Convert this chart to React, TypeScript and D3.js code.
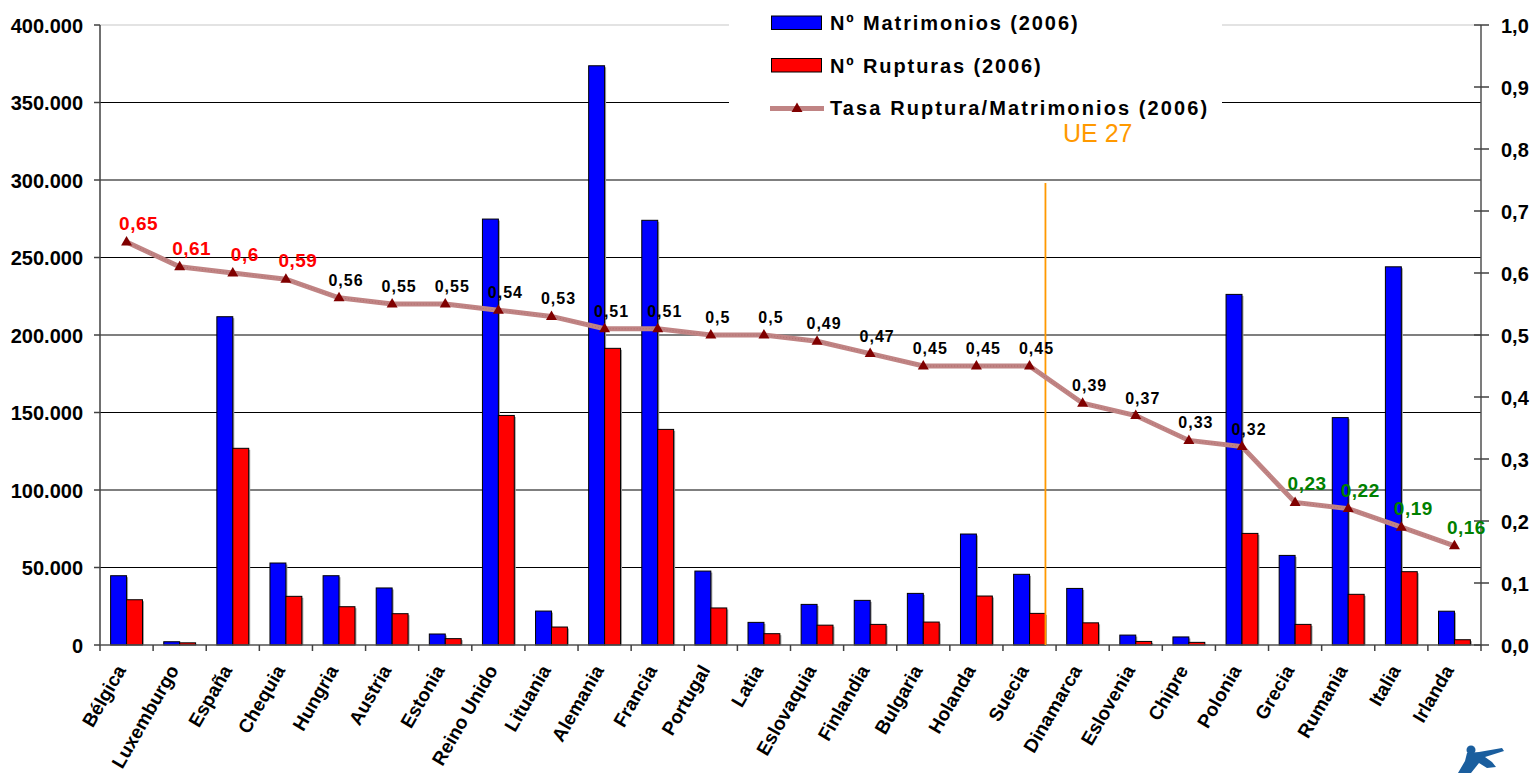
import React from "react";
import * as d3 from "d3";

const categories = [
  "Bélgica", "Luxemburgo", "España", "Chequia", "Hungria", "Austria", "Estonia",
  "Reino Unido", "Lituania", "Alemania", "Francia", "Portugal", "Latia", "Eslovaquia",
  "Finlandia", "Bulgaria", "Holanda", "Suecia", "Dinamarca", "Eslovenia", "Chipre",
  "Polonia", "Grecia", "Rumania", "Italia", "Irlanda",
];
const matrimonios = [
  44700, 2100, 211800, 52900, 44700, 36800, 7100, 274800, 21900, 373700, 274000,
  47700, 14600, 26200, 28800, 33300, 71600, 45600, 36500, 6400, 5200, 226200,
  57800, 146700, 244000, 21800,
];
const rupturas = [
  29200, 1400, 126900, 31400, 24700, 20200, 4100, 148100, 11600, 191400, 139100,
  23900, 7300, 12800, 13300, 14800, 31600, 20400, 14300, 2300, 1700, 72000,
  13300, 32700, 47300, 3400,
];
const tasa = [
  0.65, 0.61, 0.6, 0.59, 0.56, 0.55, 0.55, 0.54, 0.53, 0.51, 0.51, 0.5, 0.5,
  0.49, 0.47, 0.45, 0.45, 0.45, 0.39, 0.37, 0.33, 0.32, 0.23, 0.22, 0.19, 0.16,
];
const leftTicks = [0, 50000, 100000, 150000, 200000, 250000, 300000, 350000, 400000];
const rightTicks = [0, 0.1, 0.2, 0.3, 0.4, 0.5, 0.6, 0.7, 0.8, 0.9, 1.0];
const seriesNames = ["Nº Matrimonios (2006)", "Nº Rupturas (2006)", "Tasa Ruptura/Matrimonios (2006)"];
const ueLabel = "UE 27";
const ueAfter = "Suecia";

const W = 1535, H = 773;
const M = { left: 100, right: 1481, top: 25, bottom: 645 };
const FONT = "'Liberation Sans', Arial, sans-serif";
const BLUE = "#0000FF", RED = "#FF0000", LINE = "#c08484", MARK = "#800000", ORANGE = "#FF9900";

const fmtLeft = (v: number) => d3.format(",")(v).replace(/,/g, ".");
const fmtRight = (v: number) => d3.format(".1f")(v).replace(".", ",");
const fmtRate = (v: number) => String(v).replace(".", ",");

function Tri({ x, y }: { x: number; y: number }) {
  return <path d={`M${x},${y - 6}L${x + 5.5},${y + 3.5}L${x - 5.5},${y + 3.5}Z`} fill={MARK} />;
}

export default function App() {
  const x = d3.scaleBand<string>().domain(categories).range([M.left, M.right]).paddingInner(0).paddingOuter(0);
  const xs = d3.scaleBand<string>().domain(["m", "r"]).range([0, x.bandwidth()]).paddingInner(0).paddingOuter(0.667);
  const yL = d3.scaleLinear().domain([0, 400000]).range([M.bottom, M.top]);
  const yR = d3.scaleLinear().domain([0, 1]).range([M.bottom, M.top]);
  const cx = (c: string) => (x(c) as number) + x.bandwidth() / 2;

  const line = d3.line<number>().x((_, i) => cx(categories[i])).y((d) => yR(d));
  const ueX = (x(ueAfter) as number) + (xs("r") as number) + xs.bandwidth();

  const bars = (vals: number[], key: string, fill: string) =>
    vals.map((v, i) => {
      const bx = (x(categories[i]) as number) + (xs(key) as number);
      const by = yL(v);
      const bh = yL(0) - by;
      return (
        <g key={key + i}>
          <rect x={bx + 1.5} y={by + 1.5} width={xs.bandwidth()} height={Math.max(0, bh - 1.5)} fill="#a0a0a0" />
          <rect x={bx} y={by} width={xs.bandwidth()} height={bh} fill={fill} stroke="#000" strokeWidth={1} />
        </g>
      );
    });

  const labelColor = (i: number) => (i < 4 ? RED : i >= categories.length - 4 ? "#008000" : "#000");

  return (
    <svg width={W} height={H} style={{ position: "absolute", left: 0, top: 0, display: "block", background: "#fff" }} fontFamily={FONT}>
      <rect x={0} y={0} width={W} height={H} fill="#fff" />
      {leftTicks.slice(1).map((t) => (
        <line key={"g" + t} x1={M.left} x2={M.right} y1={yL(t)} y2={yL(t)} stroke={t === 400000 ? "#c8c8c8" : "#000"} strokeWidth={1.2} />
      ))}
      <rect x={729} y={0} width={493} height={125} fill="#fff" />

      {bars(matrimonios, "m", BLUE)}
      {bars(rupturas, "r", RED)}

      <line x1={M.left} x2={M.left} y1={M.top} y2={M.bottom} stroke="#404040" strokeWidth={1.5} />
      <line x1={M.right} x2={M.right} y1={M.top} y2={M.bottom} stroke="#505050" strokeWidth={1.5} />
      <line x1={M.left} x2={M.right} y1={M.bottom} y2={M.bottom} stroke="#505050" strokeWidth={1.5} />
      {leftTicks.map((t) => (
        <g key={"lt" + t}>
          <line x1={M.left - 6} x2={M.left} y1={yL(t)} y2={yL(t)} stroke="#404040" strokeWidth={1.5} />
          <text x={83} y={yL(t) + 7.5} textAnchor="end" fontSize={20} fontWeight="bold" fill="#000">{fmtLeft(t)}</text>
        </g>
      ))}
      {rightTicks.map((t) => (
        <g key={"rt" + t}>
          <line x1={M.right - 7} x2={M.right + 8} y1={yR(t)} y2={yR(t)} stroke="#404040" strokeWidth={1.5} />
          <text x={1501} y={yR(t) + 7.5} textAnchor="start" fontSize={20} fontWeight="bold" fill="#000">{fmtRight(t)}</text>
        </g>
      ))}
      {categories.map((c, i) => (
        <line key={"xt" + i} x1={x(c) as number} x2={x(c) as number} y1={M.bottom} y2={M.bottom + 6} stroke="#404040" strokeWidth={1.5} />
      ))}
      <line x1={M.right} x2={M.right} y1={M.bottom} y2={M.bottom + 6} stroke="#404040" strokeWidth={1.5} />
      {categories.map((c) => (
        <text key={"xl" + c} transform={`translate(${cx(c)},${M.bottom + 25}) rotate(-60)`} textAnchor="end" fontSize={19} fontWeight="bold" fill="#000">{c}</text>
      ))}

      <line x1={ueX} x2={ueX} y1={183} y2={M.bottom} stroke={ORANGE} strokeWidth={1.8} />

      <path d={line(tasa) || ""} fill="none" stroke={LINE} strokeWidth={5} />
      <path d={line(tasa) || ""} fill="none" stroke="#a86060" strokeWidth={1} strokeDasharray="1,2" opacity={0.6} />
      {tasa.map((v, i) => (
        <Tri key={"tr" + i} x={cx(categories[i])} y={yR(v)} />
      ))}
      {tasa.map((v, i) => {
        const col = labelColor(i);
        const big = col !== "#000";
        return (
          <text key={"dl" + i} x={cx(categories[i]) + (big ? 12 : 7)} y={yR(v) - 12} textAnchor="middle" fontSize={big ? 19 : 16} fontWeight="bold" letterSpacing={big ? 0.5 : 1} fill={col}>
            {fmtRate(v)}
          </text>
        );
      })}

      <rect x={771.5} y={16} width={50} height={13.5} fill={BLUE} stroke="#000" strokeWidth={1} />
      <text x={830} y={29.5} fontSize={20} fontWeight="bold" letterSpacing={1.9} fill="#000">{seriesNames[0]}</text>
      <rect x={771.5} y={58.5} width={50} height={13.5} fill={RED} stroke="#000" strokeWidth={1} />
      <text x={830} y={72.5} fontSize={20} fontWeight="bold" letterSpacing={1.9} fill="#000">{seriesNames[1]}</text>
      <line x1={770} x2={824} y1={108.5} y2={108.5} stroke={LINE} strokeWidth={5} />
      <Tri x={797} y={108.5} />
      <text x={830} y={115} fontSize={20} fontWeight="bold" letterSpacing={2.1} fill="#000">{seriesNames[2]}</text>
      <text x={1063} y={142} fontSize={25} fill={ORANGE}>{ueLabel}</text>

      <g fill="#1a5e9e">
        <circle cx={1471} cy={750} r={4.5} />
        <path d="M1467,753 L1479,752 L1502,748 L1504,751 L1485,757 L1492,762 L1496,767 L1487,768 L1479,763 L1471,773 L1458,773 L1465,761 Z" />
      </g>
    </svg>
  );
}
